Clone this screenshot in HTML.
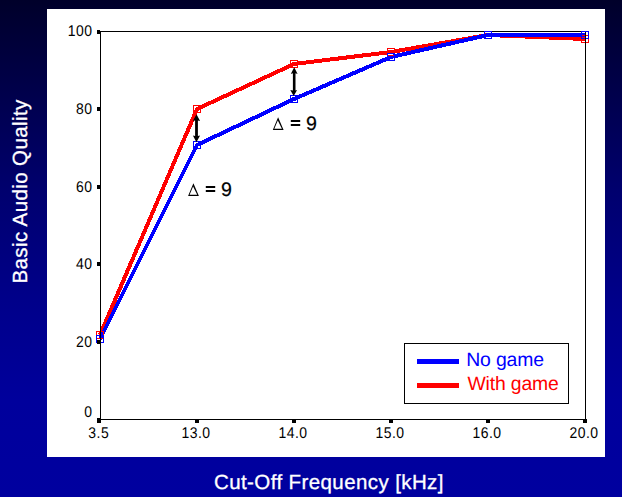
<!DOCTYPE html>
<html>
<head>
<meta charset="utf-8">
<style>
html,body{margin:0;padding:0;}
body{width:622px;height:497px;overflow:hidden;position:relative;
background:linear-gradient(to bottom,#00002a 0px,#00004e 100px,#00006e 190px,#00008a 300px,#00009c 400px,#00009f 497px);
font-family:"Liberation Sans",sans-serif;}
#panel{position:absolute;left:47px;top:9px;width:558px;height:448px;background:#fff;}
svg{position:absolute;left:0;top:0;}
text{text-rendering:geometricPrecision;}
</style>
</head>
<body>
<div id="panel"></div>
<svg width="622" height="497" viewBox="0 0 622 497">
  <!-- axis titles -->
  <g font-family="Liberation Sans" font-size="20.5" fill="#fff" stroke="#fff" stroke-width="0.3" letter-spacing="0.4">
  <text x="214" y="489.1">Cut-Off Frequency [kHz]</text>
  <text transform="translate(27.4,283.5) rotate(-90)">Basic Audio Quality</text>
  </g>

  <!-- top frame line (under data) -->
  <path d="M100 31.5 H586" stroke="#000" stroke-width="1" fill="none" shape-rendering="crispEdges"/>
  <!-- data lines -->
  <g fill="none" stroke-width="4" stroke-linejoin="round" shape-rendering="crispEdges">
    <polyline stroke="#ff0000" points="100,335 197,109 294,64 391,52 488,35 585,39"/>
    <polyline stroke="#0000ff" points="100,339 197,145 294,99 391,57 488,35 585,35"/>
  </g>
  <!-- markers -->
  <g fill="none" stroke-width="1" shape-rendering="crispEdges">
    <g stroke="#ff0000">
      <rect x="96.5" y="331.5" width="7" height="7"/>
      <rect x="193.5" y="105.5" width="7" height="7"/>
      <rect x="290.5" y="60.5" width="7" height="7"/>
      <rect x="387.5" y="48.5" width="7" height="7"/>
      <rect x="484.5" y="31.5" width="7" height="7"/>
      <rect x="581.5" y="35.5" width="7" height="7"/>
    </g>
    <g stroke="#0000ff">
      <rect x="96.5" y="335.5" width="7" height="7"/>
      <rect x="193.5" y="141.5" width="7" height="7"/>
      <rect x="290.5" y="95.5" width="7" height="7"/>
      <rect x="387.5" y="53.5" width="7" height="7"/>
      <rect x="484.5" y="31.5" width="7" height="7"/>
      <rect x="581.5" y="31.5" width="7" height="7"/>
    </g>
  </g>

  <!-- frame / axes -->
  <g fill="none" stroke="#000" stroke-width="1" shape-rendering="crispEdges">
    <path d="M100.5 31 V419.5 H585.5 V32"/>
  </g>
  <g fill="#000" shape-rendering="crispEdges">
    <!-- y ticks -->
    <rect x="97" y="30" width="3" height="4"/>
    <rect x="97" y="107" width="3" height="4"/>
    <rect x="97" y="185" width="3" height="4"/>
    <rect x="97" y="262" width="3" height="4"/>
    <rect x="97" y="340" width="3" height="4"/>
    <rect x="97" y="418" width="4" height="5"/>
    <!-- x ticks -->
    <rect x="195" y="419" width="4" height="4"/>
    <rect x="292" y="419" width="4" height="4"/>
    <rect x="389" y="419" width="4" height="4"/>
    <rect x="486" y="419" width="4" height="4"/>
    <rect x="583" y="419" width="4" height="4"/>
  </g>

  <!-- y tick labels -->
  <g font-family="Liberation Sans" font-size="15.5" fill="#000" text-anchor="end" text-rendering="geometricPrecision" letter-spacing="0.55">
    <text transform="translate(92.4,36) scale(0.9,1)">100</text>
    <text transform="translate(92.4,114) scale(0.9,1)">80</text>
    <text transform="translate(92.4,191.5) scale(0.9,1)">60</text>
    <text transform="translate(92.4,269) scale(0.9,1)">40</text>
    <text transform="translate(92.4,347) scale(0.9,1)">20</text>
    <text transform="translate(92.4,417) scale(0.9,1)">0</text>
  </g>
  <!-- x tick labels -->
  <g font-family="Liberation Sans" font-size="15.5" fill="#000" text-anchor="middle" text-rendering="geometricPrecision" letter-spacing="0.55">
    <text transform="translate(98.7,438) scale(0.9,1)">3.5</text>
    <text transform="translate(196,438) scale(0.9,1)">13.0</text>
    <text transform="translate(293,438) scale(0.9,1)">14.0</text>
    <text transform="translate(390,438) scale(0.9,1)">15.0</text>
    <text transform="translate(487,438) scale(0.9,1)">16.0</text>
    <text transform="translate(584,438) scale(0.9,1)">20.0</text>
  </g>

  <!-- delta annotations -->
  <g fill="#000">
    <path d="M196.5 114.3 L200.1 121.1 L197.9 120.4 L197.9 136 L200.1 135.4 L196.4 142.2 L192.9 135.4 L195.1 136 L195.1 120.4 L192.9 121.1 Z"/>
    <path d="M294.2 67.2 L297.6 74 L295.5 73.3 L295.5 90.4 L297.1 89.9 L293.7 95.9 L290.3 89.9 L292.9 90.4 L292.9 73.3 L290.8 74 Z"/>
  </g>
  <g fill="#000" fill-rule="evenodd">
    <path d="M193.4 183.3 L198.9 195.9 L188.1 195.9 Z M193.1 186.6 L189.6 194.8 L197.2 194.8 Z"/>
    <rect x="205.8" y="186" width="9.4" height="2"/>
    <rect x="205.8" y="190" width="9.4" height="2"/>
    <path transform="translate(84.7,-66)" d="M193.4 183.3 L198.9 195.9 L188.1 195.9 Z M193.1 186.6 L189.6 194.8 L197.2 194.8 Z"/>
    <rect x="290.8" y="120" width="9.4" height="2"/>
    <rect x="290.8" y="124" width="9.4" height="2"/>
  </g>
  <g font-size="19.6" fill="#000" font-family="Liberation Sans" stroke="#000" stroke-width="0.2">
    <text x="220.9" y="195.9">9</text>
    <text x="305.9" y="129.9">9</text>
  </g>

  <!-- legend -->
  <rect x="404.5" y="343.5" width="164" height="60" fill="#fff" stroke="#000" stroke-width="1" shape-rendering="crispEdges"/>
  <rect x="417" y="359" width="42" height="5" fill="#0000ff"/>
  <rect x="417" y="383" width="42" height="5" fill="#ff0000"/>
  <text x="466.2" y="365.6" font-family="Liberation Sans" font-size="19.4" letter-spacing="-0.15" fill="#0000ff">No game</text>
  <text x="467.4" y="389.6" font-family="Liberation Sans" font-size="19.4" letter-spacing="-0.15" fill="#ff0000">With game</text>
</svg>
</body>
</html>
